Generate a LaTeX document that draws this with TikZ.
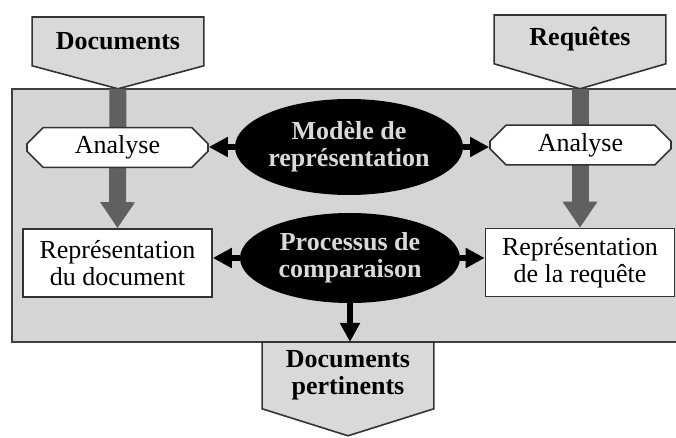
\documentclass[tikz,border=0pt]{standalone}
\usepackage{fontspec}
\setmainfont{Liberation Serif}
\usetikzlibrary{shapes.misc,shapes.geometric,arrows.meta,calc,backgrounds}

\begin{document}
\begin{tikzpicture}[x=0.5pt,y=-0.5pt]
    \tikzset{every node/.style={inner sep=0pt, font=\fontsize{13}{13.5}\selectfont},
        entree/.style={rectangle, minimum width=85.5pt, anchor=north, align=center, font=\fontsize{13}{13.5}\selectfont\bfseries},
        pointe/.style={draw=black!80, line width=0.8pt, fill=gray!30},
        analyse/.style={chamfered rectangle, chamfered rectangle xsep=4pt, chamfered rectangle ysep=4pt,
            draw=black!80, line width=0.8pt, fill=white, minimum width=90.5pt, minimum height=19.5pt},
        repr/.style={rectangle, draw=black!80, line width=0.8pt, fill=white, align=center,
            minimum width=94.5pt, minimum height=34pt},
        modele/.style={ellipse, fill=black, text=gray!30, align=center, font=\fontsize{13}{13.5}\selectfont\bfseries},
        flux/.style={draw=gray!75!black, line width=8.5pt, -{Triangle[length=13pt,width=16.5pt]}},
        lien/.style={draw=black, line width=3pt, -{Triangle[length=9.5pt,width=9.5pt]}}}
    \useasboundingbox (0,0) rectangle (676,438);
    \node [entree, minimum height=24pt] (doc) at (118,17) {Documents};
    \node [entree, minimum height=24pt] (req) at (580,15) {Requêtes};
    \node [entree, minimum height=33pt] (pert) at (348,342) {Documents\\pertinents};
    \coordinate (doctip) at ($(doc.south)+(0,23)$);
    \coordinate (reqtip) at ($(req.south)+(0,25)$);
    \coordinate (perttip) at ($(pert.south)+(0,27)$);
    \begin{pgfonlayer}{background}
        \fill [gray!33, draw=black!75, line width=0.8pt] (12,89) rectangle (677,342);
        \filldraw [pointe] (doc.north west) -- (doc.north east) -- (doc.south east) -- (doctip) -- (doc.south west) -- cycle;
        \filldraw [pointe] (req.north west) -- (req.north east) -- (req.south east) -- (reqtip) -- (req.south west) -- cycle;
        \filldraw [pointe] (pert.north west) -- (pert.north east) -- (pert.south east) -- (perttip) -- (pert.south west) -- cycle;
    \end{pgfonlayer}
    \node [repr] (reprdoc) at (117.5,263) {Représentation\\du document};
    \node [repr] (reprreq) at (580,262.5) {Représentation\\de la requête};
    \node [modele, minimum width=111pt, minimum height=48pt] (modele) at (349,147) {Modèle de\\représentation};
    \node [modele, minimum width=110pt, minimum height=45pt] (proc) at (350,258) {Processus de\\comparaison};
    \draw [flux] (doctip) -- (reprdoc.north);
    \draw [flux] (reqtip) -- (reprreq.north);
    \node [analyse] (analdoc) at (117.5,147.5) {Analyse};
    \node [analyse] (analreq) at (580.5,145) {Analyse};
    \draw [lien] (modele.west) -- (analdoc.east |- modele.west);
    \draw [lien] (modele.east) -- (analreq.west |- modele.east);
    \draw [lien] (proc.west) -- (reprdoc.east |- proc.west);
    \draw [lien] (proc.east) -- (reprreq.west |- proc.east);
    \draw [lien] (proc.south) -- (proc.south |- pert.north);
\end{tikzpicture}
\end{document}
